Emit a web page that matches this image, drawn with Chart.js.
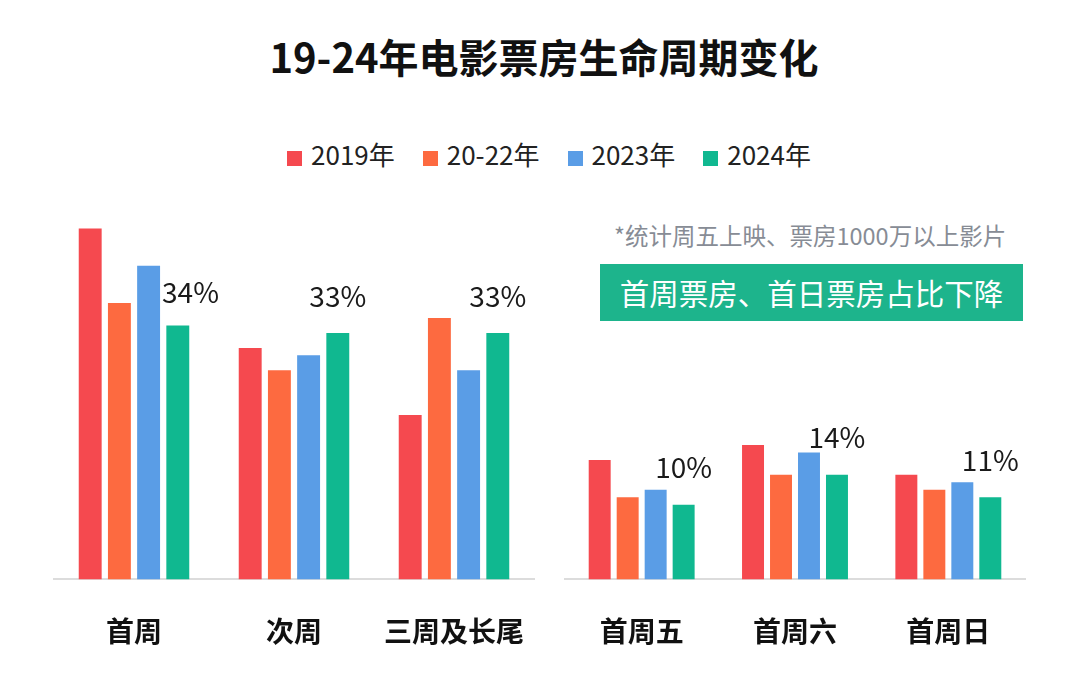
<!DOCTYPE html>
<html>
<head>
<meta charset="utf-8">
<script src="https://cdn.jsdelivr.net/npm/chart.js@4.4.1/dist/chart.umd.min.js"></script>
<style>
  body { margin: 0; background: #fff; font-family: "Noto Sans CJK SC", "Noto Sans", sans-serif; }
  #wrap { position: relative; width: 1080px; height: 680px; overflow: hidden; }
  #wrap canvas { position: absolute; left: 0; top: 0; }
  #title { position: absolute; left: 0; width: 1088px; top: 28px; text-align: center;
    font-size: 40px; font-weight: bold; color: #111; line-height: 56px; }
  #legend { position: absolute; left: 0; width: 1098px; top: 136px; text-align: center;
    font-size: 26px; color: #222; line-height: 36px; }
  #legend span.item { margin: 0 14px; white-space: nowrap; }
  #legend span.box { display: inline-block; width: 15px; height: 15px; margin-right: 9px; vertical-align: -1px; }
  #note { position: absolute; left: 614px; top: 218px; font-size: 23.5px; color: #878c95; }
  #banner { position: absolute; left: 600px; top: 264px; width: 423px; height: 57px;
    background: #1db48c; color: #fff; font-size: 29.5px; line-height: 57px; text-align: center; }
</style>
</head>
<body>
<div id="wrap">
  <div id="title">19-24年电影票房生命周期变化</div>
  <div id="legend"></div>
  <div id="note">*统计周五上映、票房1000万以上影片</div>
  <div id="banner">首周票房、首日票房占比下降</div>
  <canvas id="weekChart" width="1080" height="716"></canvas>
  <canvas id="dayChart" width="1080" height="716"></canvas>
</div>
<script>
// categories
const weekLabels = ['首周', '次周', '三周及长尾'];
const dayLabels = ['首周五', '首周六', '首周日'];

// series
const seriesNames = ['2019年', '20-22年', '2023年', '2024年'];
const seriesColors = ['#f5494f', '#fd6a40', '#5a9de6', '#10b890'];

// share of box office (%), per week stage
const week2019 = [47, 31, 22];
const week2022 = [37, 28, 35];
const week2023 = [42, 30, 28];
const week2024 = [34, 33, 33];

// share of box office (%), first weekend days
const day2019 = [16, 18, 14];
const day2022 = [11, 14, 12];
const day2023 = [12, 17, 13];
const day2024 = [10, 14, 11];

// legend
const legendEl = document.getElementById('legend');
seriesNames.forEach((name, i) => {
  const item = document.createElement('span');
  item.className = 'item';
  item.innerHTML = '<span class="box" style="background:' + seriesColors[i] + '"></span>' + name;
  legendEl.appendChild(item);
});

// draws the % label above the 2024 bars only
const lastBarLabel = {
  id: 'lastBarLabel',
  afterDatasetsDraw(chart) {
    const ctx = chart.ctx;
    const last = chart.data.datasets.length - 1;
    const bars = chart.getDatasetMeta(last).data;
    const prevBars = chart.getDatasetMeta(last - 1).data;
    ctx.save();
    ctx.font = '28px "Noto Sans CJK SC", "Noto Sans", sans-serif';
    ctx.fillStyle = '#1a1a1a';
    ctx.textBaseline = 'middle';
    bars.forEach((bar, i) => {
      const text = chart.data.datasets[last].data[i] + '%';
      const w = ctx.measureText(text).width;
      let x = bar.x;
      let y = bar.y - 37;
      // if the neighbouring bar pokes into the label, move it right
      const prev = prevBars[i];
      if (prev.y < y + 14 && prev.x + prev.width / 2 > x - w / 2) {
        x = prev.x + prev.width / 2 + 2 + w / 2;
        y = bar.y - 33;
      }
      ctx.textAlign = 'center';
      ctx.fillText(text, x, y);
    });
    ctx.restore();
  }
};

function makeDatasets(values) {
  return values.map((v, i) => ({
    label: seriesNames[i],
    data: v,
    backgroundColor: seriesColors[i],
    categoryPercentage: 0.73,
    barPercentage: 0.785
  }));
}

function makeConfig(labels, values, padLeft, padRight) {
  return {
    type: 'bar',
    data: { labels: labels, datasets: makeDatasets(values) },
    options: {
      responsive: false,
      animation: false,
      layout: { padding: { left: padLeft, right: padRight, top: 206, bottom: 33 } },
      plugins: { legend: { display: false }, tooltip: { enabled: false } },
      scales: {
        x: {
          grid: { display: false, drawTicks: false },
          border: { display: true, color: '#dcdcdc', width: 2 },
          ticks: {
            padding: 35,
            color: '#111',
            font: { family: '"Noto Sans CJK SC", sans-serif', size: 28, weight: 'bold' }
          }
        },
        y: { display: false, min: 0, max: 50 }
      }
    },
    plugins: [lastBarLabel]
  };
}

const weekChart = new Chart(
  document.getElementById('weekChart'),
  makeConfig(weekLabels, [week2019, week2022, week2023, week2024], 54, 546)
);

const dayChart = new Chart(
  document.getElementById('dayChart'),
  makeConfig(dayLabels, [day2019, day2022, day2023, day2024], 565, 55)
);
</script>
</body>
</html>
